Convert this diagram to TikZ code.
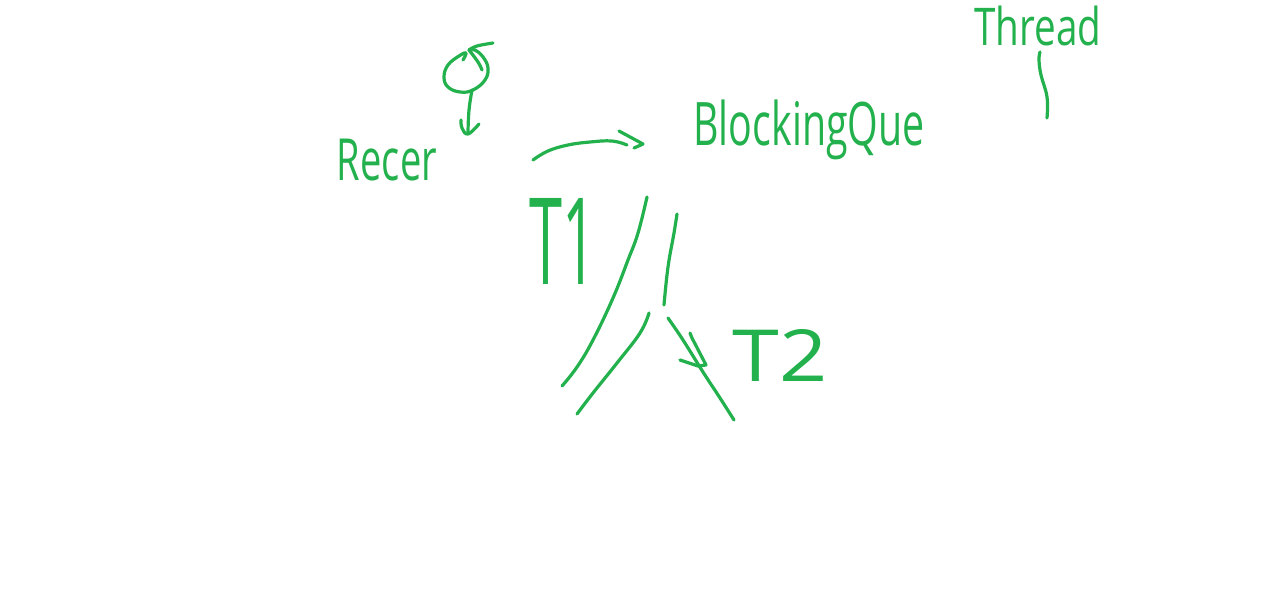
\documentclass[tikz,border=0pt]{standalone}
\usepackage{graphicx}
\usepackage{fontspec}
\setmainfont{Open Sans}
\definecolor{ink}{HTML}{22B14C}
\tikzset{
  pen/.style={draw=ink,line width=3.2pt,line cap=round,line join=round},
  label/.style={text=ink,inner sep=0pt,outer sep=0pt}
}
\newcommand{\fit}[3]{\resizebox*{#1pt}{#2pt}{#3}}
\newcommand{\stroke}[1]{\draw[pen] plot[smooth,tension=0.7] coordinates {#1};}
\begin{document}
\begin{tikzpicture}[x=1pt,y=-1pt]
\fill[white] (0,0) rectangle (1268,590);
\useasboundingbox (0,0) rectangle (1268,590);
% labels
\node[label] (recer) at (387,160) {\fit{100}{42}{Recer}};
\node[label] (queue) at (809,130) {\fit{231}{60}{BlockingQue}};
\node[label] (thread) at (1038,26) {\fit{127}{40}{Thread}};
\node[label] (tone) at (563,241) {\fit{67}{86}{T1}};
\node[label] (ttwo) at (780,355) {\fit{95}{52}{T2}};
% named ends
\coordinate (loopS) at (493,43);
\coordinate (downS) at (472,90);
\coordinate (flowS) at (533,160);
\coordinate (flowE) at (627,145);
\coordinate (threadS) at (1040,52);
\coordinate (threadE) at (1047,118);
\coordinate (aS) at (647,197);
\coordinate (aE) at (562,386);
\coordinate (bS) at (677,214);
\coordinate (bE) at (664,305);
\coordinate (cS) at (649,313);
\coordinate (cE) at (577,414);
\coordinate (dS) at (668,318);
\coordinate (dE) at (734,420);
% self loop
\stroke{(loopS) (477,46) (469,50)}
\stroke{(463,60) (466,53) (459,56) (448,65) (444,77) (448,87) (460,92) (473,90) (485,80) (488,68) (483,57) (475,50) (469,50)}
\stroke{(482,70) (478,62) (469,50)}
% down arrow
\stroke{(downS) (469,110) (468,132)}
\stroke{(461,120) (462,128) (468,134) (479,124)}
% flow arrow
\stroke{(flowS) (548,151) (568,145) (590,142) (612,141) (flowE)}
\draw[pen] (619,131) -- (643,144) -- (634,148);
% thread line
\stroke{(threadS) (1039,60) (1041,75) (1047,97) (threadE)}
% queue lines
\stroke{(aS) (638,233) (628,260) (613,298) (593,340) (577,367) (aE)}
\stroke{(bS) (674,233) (668,267) (bE)}
\stroke{(cS) (640,333) (617,363) (593,393) (cE)}
\stroke{(dS) (683,340) (703,372) (720,398) (dE)}
% T2 arrowhead
\draw[pen] (690,333) -- (692,338) -- (706,365) -- (698,366) -- (680,360);
\end{tikzpicture}
\end{document}
